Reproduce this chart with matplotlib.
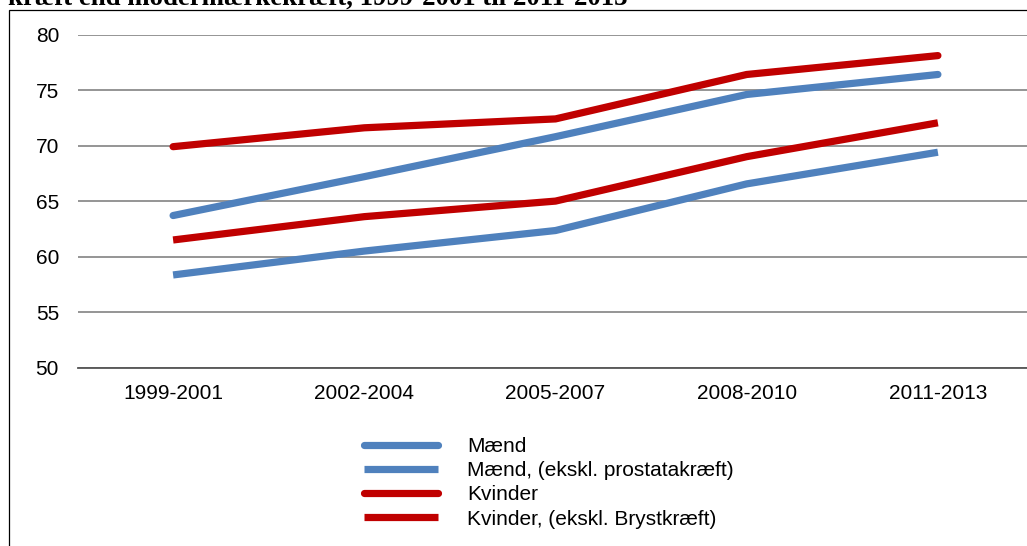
import matplotlib.pyplot as plt
from matplotlib.patches import Rectangle

plt.rcParams["font.family"] = ["Liberation Sans", "DejaVu Sans"]

periods = ["1999-2001", "2002-2004", "2005-2007", "2008-2010", "2011-2013"]
maend = [63.7, 67.2, 70.8, 74.6, 76.4]
maend_ekskl = [58.35, 60.5, 62.35, 66.55, 69.4]
kvinder = [69.9, 71.6, 72.4, 76.4, 78.1]
kvinder_ekskl = [61.5, 63.6, 65.0, 69.0, 72.05]

BLUE = "#4F81BD"
RED = "#C00000"

W, H = 1027, 546
fig = plt.figure(figsize=(W / 100, H / 100), dpi=100)

# outer chart frame, runs past the right and bottom edges
fig.patches.append(Rectangle((9 / W, -0.1), 1.2, 1 - 10 / H + 0.1,
                             transform=fig.transFigure, fill=False,
                             edgecolor="black", linewidth=0.9))

# cropped heading from the report
fig.text(8 / W, 1 - 5 / H, "kræft end modermærkekræft, 1999-2001 til 2011-2013",
         family="Liberation Serif", fontweight="bold", fontsize=19.3,
         va="baseline", ha="left")

left, right = 77.5, 1033.5
top, bottom = 34.5, 367.7
ax = fig.add_axes([left / W, 1 - bottom / H, (right - left) / W, (bottom - top) / H])

x = range(len(periods))
ax.plot(x, maend, color=BLUE, lw=5.2, solid_capstyle="round", label="Mænd")
ax.plot(x, maend_ekskl, color=BLUE, lw=5.2, solid_capstyle="butt",
        label="Mænd, (ekskl. prostatakræft)")
ax.plot(x, kvinder, color=RED, lw=5.2, solid_capstyle="round", label="Kvinder")
ax.plot(x, kvinder_ekskl, color=RED, lw=5.2, solid_capstyle="butt",
        label="Kvinder, (ekskl. Brystkræft)")

ax.set_xlim(-0.5, 4.5)
ax.set_ylim(50, 80)
ax.set_yticks(range(50, 81, 5))
ax.set_xticks(list(x))
ax.set_xticklabels(periods)
ax.yaxis.grid(True, color="#8c8c8c", lw=1.3)
ax.set_axisbelow(True)
for side in ["top", "right", "left"]:
    ax.spines[side].set_visible(False)
ax.spines["bottom"].set_color("#555555")
ax.spines["bottom"].set_linewidth(1.3)
ax.tick_params(axis="both", length=0, labelsize=15)
ax.tick_params(axis="y", pad=13.3)
ax.tick_params(axis="x", pad=12)

ax.legend(loc="upper left", bbox_to_anchor=(364 / W, 1 - 437 / H),
          bbox_transform=fig.transFigure, frameon=False, fontsize=15,
          handlelength=3.55, handletextpad=1.4, labelspacing=0.25,
          borderpad=0, borderaxespad=0)

fig.savefig("out.png", dpi=100)
